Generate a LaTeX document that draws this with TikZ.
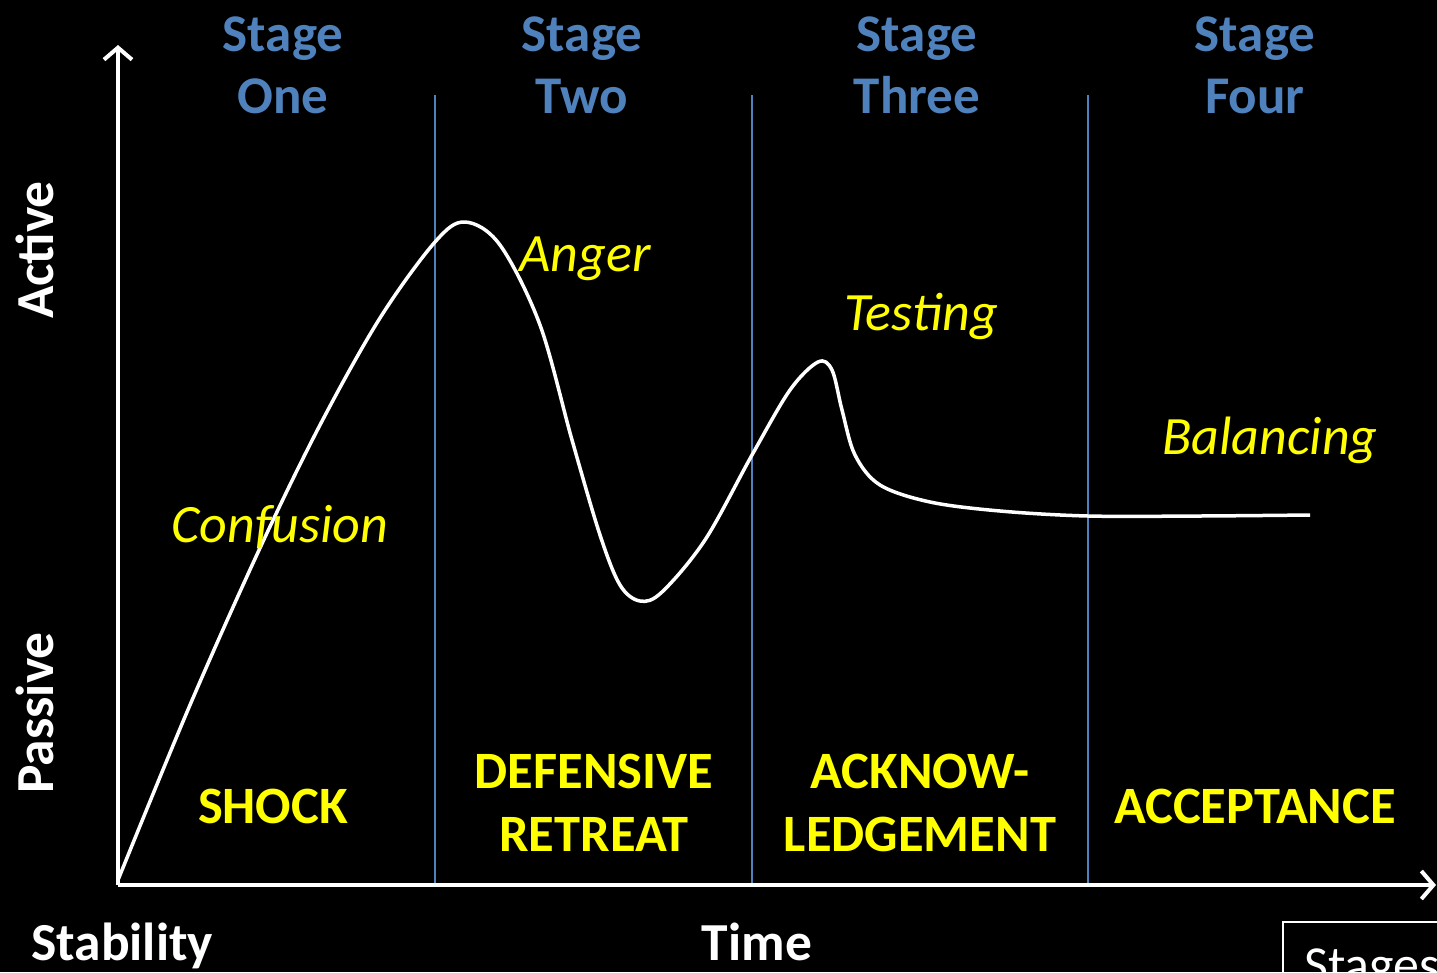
\documentclass[tikz,border=0pt]{standalone}
\usepackage{fontspec}
\setmainfont{Carlito}
\usetikzlibrary{arrows.meta}
\definecolor{stageblue}{RGB}{79,129,189}
\definecolor{lblyellow}{RGB}{255,255,0}
\begin{document}
\begin{tikzpicture}[x=1pt,y=-1pt,
  stagelbl/.style={text=stageblue,font=\fontsize{53}{62}\selectfont\bfseries,align=center,inner sep=0pt},
  phaselbl/.style={text=lblyellow,font=\fontsize{52.5}{63}\selectfont\bfseries,align=center,inner sep=0pt},
  moodlbl/.style={text=lblyellow,font=\fontsize{54}{62}\selectfont\itshape,inner sep=0pt,anchor=base},
  axislbl/.style={text=white,font=\fontsize{53.5}{62}\selectfont\bfseries,inner sep=0pt},
  divider/.style={draw=stageblue,line width=1.5pt},
  axisline/.style={draw=white,line width=4pt,-{Straight Barb[length=12pt,width=28pt,line width=4pt]}},
  curve/.style={draw=white,line width=3.5pt}]
\useasboundingbox (0,0) rectangle (1437,972);
\fill[black] (0,0) rectangle (1437,972);
\clip (0,0) rectangle (1437,972);

% coordinates
\coordinate (O) at (118,885);
\coordinate (ytip) at (118,45);
\coordinate (xtip) at (1436,885);
\coordinate (d1t) at (435,95);
\coordinate (d1b) at (435,885);
\coordinate (d2t) at (752,95);
\coordinate (d2b) at (752,885);
\coordinate (d3t) at (1088,95);
\coordinate (d3b) at (1088,885);

% dividers
\draw[divider] (d1t) -- (d1b);
\draw[divider] (d2t) -- (d2b);
\draw[divider] (d3t) -- (d3b);

% curve
\draw[curve] plot[smooth,tension=0.55] coordinates {
  (118,880) (190,705) (260,548) (320,425) (380,318) (435,242) (465,222)
  (500,245) (540,325) (572,440) (600,535) (620,585) (640,601) (662,592)
  (705,540) (752,455) (790,390) (818,362) (832,370) (842,410) (855,455) (880,485)
  (930,502) (1000,511) (1088,516) (1200,516) (1310,515)};

% axes
\draw[axisline] (O) -- (ytip);
\draw[axisline] (O) -- (xtip);

% stage headings
\node[stagelbl] (s1) at (283,65) {Stage\\One};
\node[stagelbl] (s2) at (582,65) {Stage\\Two};
\node[stagelbl] (s3) at (917,65) {Stage\\Three};
\node[stagelbl] (s4) at (1255,65) {Stage\\Four};

% mood labels
\node[moodlbl] (confusion) at (280,542) {Confusion};
\node[moodlbl] (anger) at (585,271) {Anger};
\node[moodlbl] (testing) at (921,330) {Testing};
\node[moodlbl] (balancing) at (1270,454) {Balancing};

% phase labels
\node[phaselbl] (shock) at (273,806) {SHOCK};
\node[phaselbl] (defensive) at (594,803) {DEFENSIVE\\RETREAT};
\node[phaselbl] (acknow) at (920,803) {ACKNOW-\\LEDGEMENT};
\node[phaselbl] (accept) at (1255,806) {ACCEPTANCE};

% axis labels
\node[axislbl,rotate=90,anchor=base] (active) at (53,250) {Active};
\node[axislbl,rotate=90,anchor=base] (passive) at (53,713) {Passive};
\node[axislbl,anchor=base west] (stability) at (31,960) {Stability};
\node[axislbl,anchor=base] (time) at (757,960) {Time};

% stages box (cut off at the picture's edge, as in the reference)
\draw[white,line width=1.5pt] (1283,922) rectangle (1500,1000);
\node[text=white,font=\fontsize{52}{62}\selectfont,anchor=base west,inner sep=0pt] (stagesbox) at (1304,982) {Stages};
\end{tikzpicture}
\end{document}
